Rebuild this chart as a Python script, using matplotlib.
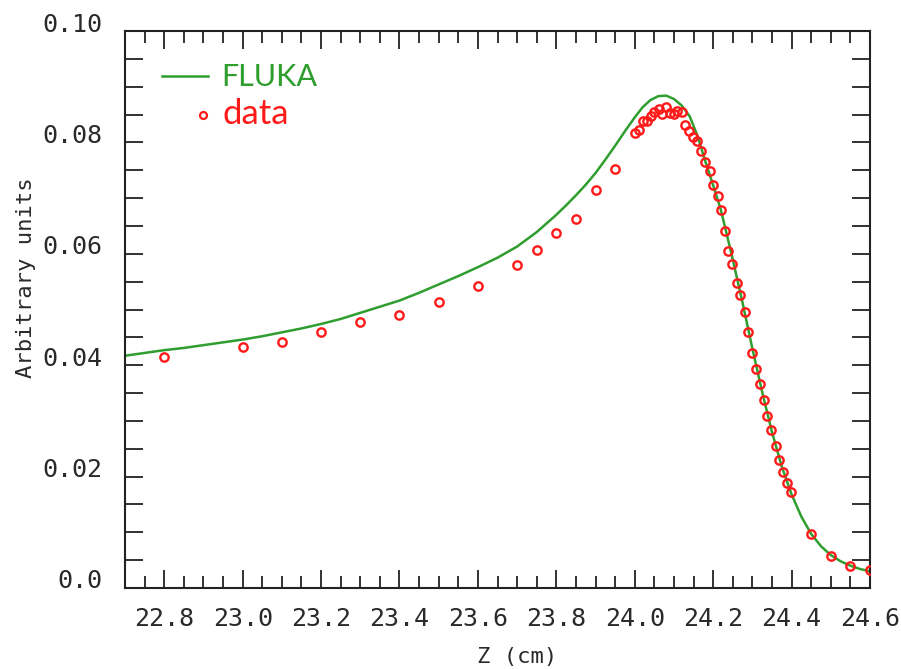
import matplotlib
matplotlib.use("Agg")
import matplotlib.pyplot as plt
from matplotlib.lines import Line2D
from matplotlib.ticker import MultipleLocator, FixedLocator
import matplotlib.transforms as mtransforms

# FLUKA simulation curve
fluka_z = [22.7, 22.75, 22.8, 22.85, 22.9, 22.95, 23.0, 23.05, 23.1, 23.15, 23.2, 23.25,
           23.3, 23.35, 23.4, 23.45, 23.5, 23.55, 23.6, 23.65, 23.7, 23.75, 23.8, 23.825,
           23.85, 23.875, 23.9, 23.925, 23.95, 23.975, 24.0, 24.02, 24.04, 24.06, 24.08,
           24.1, 24.12, 24.14, 24.16, 24.18, 24.2, 24.22, 24.25, 24.275, 24.3, 24.325,
           24.35, 24.375, 24.4, 24.425, 24.45, 24.475, 24.5, 24.525, 24.55, 24.575, 24.6]
fluka_v = [0.0417, 0.0422, 0.0427, 0.0431, 0.0436, 0.0441, 0.0446, 0.0452, 0.0459,
           0.0466, 0.0474, 0.0483, 0.0494, 0.0505, 0.0516, 0.0530, 0.0545, 0.0560,
           0.0576, 0.0593, 0.0613, 0.0639, 0.0670, 0.0687, 0.0705, 0.0724, 0.0745,
           0.0769, 0.0794, 0.0820, 0.0845, 0.0863, 0.0876, 0.0883, 0.0884, 0.0878,
           0.0866, 0.0847, 0.0812, 0.0766, 0.0723, 0.0678, 0.0590, 0.0512, 0.0430,
           0.0352, 0.0280, 0.0218, 0.0168, 0.0128, 0.0097, 0.0075, 0.0059, 0.0048,
           0.0040, 0.0034, 0.0030]

# measured data
data_z = [22.8, 23.0, 23.1, 23.2, 23.3, 23.4, 23.5, 23.6, 23.7, 23.75, 23.8, 23.85,
          23.9, 23.95, 24.0, 24.011, 24.02, 24.031, 24.041, 24.05, 24.062, 24.07,
          24.08, 24.09, 24.1, 24.109, 24.121, 24.128, 24.139, 24.149, 24.16, 24.17,
          24.178, 24.191, 24.2, 24.212, 24.221, 24.23, 24.239, 24.249, 24.261,
          24.269, 24.28, 24.29, 24.299, 24.309, 24.319, 24.329, 24.338, 24.348,
          24.359, 24.369, 24.379, 24.388, 24.399, 24.45, 24.5, 24.55, 24.599]
data_v = [0.0415, 0.0433, 0.0442, 0.0460, 0.0477, 0.0490, 0.0514, 0.0543, 0.0579,
          0.0606, 0.0638, 0.0663, 0.0715, 0.0753, 0.0816, 0.0822, 0.0838, 0.0838,
          0.0847, 0.0855, 0.0860, 0.0851, 0.0864, 0.0853, 0.0851, 0.0857, 0.0854,
          0.0831, 0.0821, 0.0809, 0.0803, 0.0784, 0.0765, 0.0749, 0.0724, 0.0704,
          0.0679, 0.0641, 0.0605, 0.0582, 0.0548, 0.0526, 0.0496, 0.0459, 0.0422,
          0.0393, 0.0367, 0.0338, 0.0309, 0.0284, 0.0255, 0.0230, 0.0208, 0.0188,
          0.0172, 0.0097, 0.0057, 0.0040, 0.0032]

x_ticks = [22.8, 23.0, 23.2, 23.4, 23.6, 23.8, 24.0, 24.2, 24.4, 24.6]
x_ticklabels = ["22.8", "23.0", "23.2", "23.4", "23.6", "23.8", "24.0", "24.2", "24.4", "24.6"]
y_ticks = [0.0, 0.02, 0.04, 0.06, 0.08, 0.10]
y_ticklabels = ["0.0", "0.02", "0.04", "0.06", "0.08", "0.10"]

GREEN = "#2f9e2f"
RED = "#ff1a1a"
TXT = "#2a2a2a"
mono = "DejaVu Sans Mono"

W, H = 901, 669
fig = plt.figure(figsize=(W / 100, H / 100), dpi=100)
ax = fig.add_axes([125 / W, 1 - 588 / H, (870 - 125) / W, (588 - 31) / H])

ax.plot(fluka_z, fluka_v, color=GREEN, lw=1.8, zorder=2)
ax.plot(data_z, data_v, linestyle="none", marker="o", markersize=6,
        markerfacecolor="none", markeredgecolor=RED, markeredgewidth=1.7, zorder=3)

ax.set_xlim(22.7, 24.6)
ax.set_ylim(0.0, 0.10)

ax.xaxis.set_major_locator(FixedLocator(x_ticks))
ax.set_xticklabels(x_ticklabels)
ax.xaxis.set_minor_locator(MultipleLocator(0.05))
ax.yaxis.set_major_locator(FixedLocator(y_ticks))
ax.set_yticklabels(y_ticklabels)
ax.yaxis.set_minor_locator(MultipleLocator(0.005))

for s in ax.spines.values():
    s.set_linewidth(1.5)
    s.set_color("#222222")

ax.tick_params(axis="x", which="major", direction="in", length=13, width=1.3,
               top=True, bottom=True, pad=14, labelsize=18, colors="#222222",
               labelcolor=TXT)
ax.tick_params(axis="x", which="minor", direction="in", length=8.5, width=1.3,
               top=True, bottom=True, colors="#222222")
ax.tick_params(axis="y", which="both", direction="in", length=13, width=1.3,
               left=True, right=True, pad=16, labelsize=18, colors="#222222",
               labelcolor=TXT)

for lab in ax.get_xticklabels() + ax.get_yticklabels():
    lab.set_family(mono)
offset = mtransforms.ScaledTranslation(0, 9 / 100, fig.dpi_scale_trans)
for lab in ax.get_yticklabels():
    lab.set_transform(lab.get_transform() + offset)

fig.text(517 / W, 1 - 657 / H, "Z (cm)", family=mono, fontsize=16,
         ha="center", va="center", color=TXT)
fig.text(26 / W, 1 - 278 / H, "Arbitrary units", family=mono, fontsize=16,
         rotation=90, ha="center", va="center", color=TXT)

# legend
fig.add_artist(Line2D([162 / W, 208 / W], [1 - 76 / H, 1 - 76 / H],
                      transform=fig.transFigure, color=GREEN, lw=1.8))
fig.add_artist(Line2D([203 / W], [1 - 115 / H], transform=fig.transFigure,
                      linestyle="none", marker="o", markersize=5,
                      markerfacecolor="none", markeredgecolor=RED, markeredgewidth=1.6))
fig.text(221 / W, 1 - 77 / H, "FLUKA", family="Lato", fontsize=22,
         color=GREEN, ha="left", va="center")
fig.text(223 / W, 1 - 114 / H, "data", family="Lato", fontsize=25,
         color=RED, ha="left", va="center")

fig.savefig("out.png", dpi=100)
